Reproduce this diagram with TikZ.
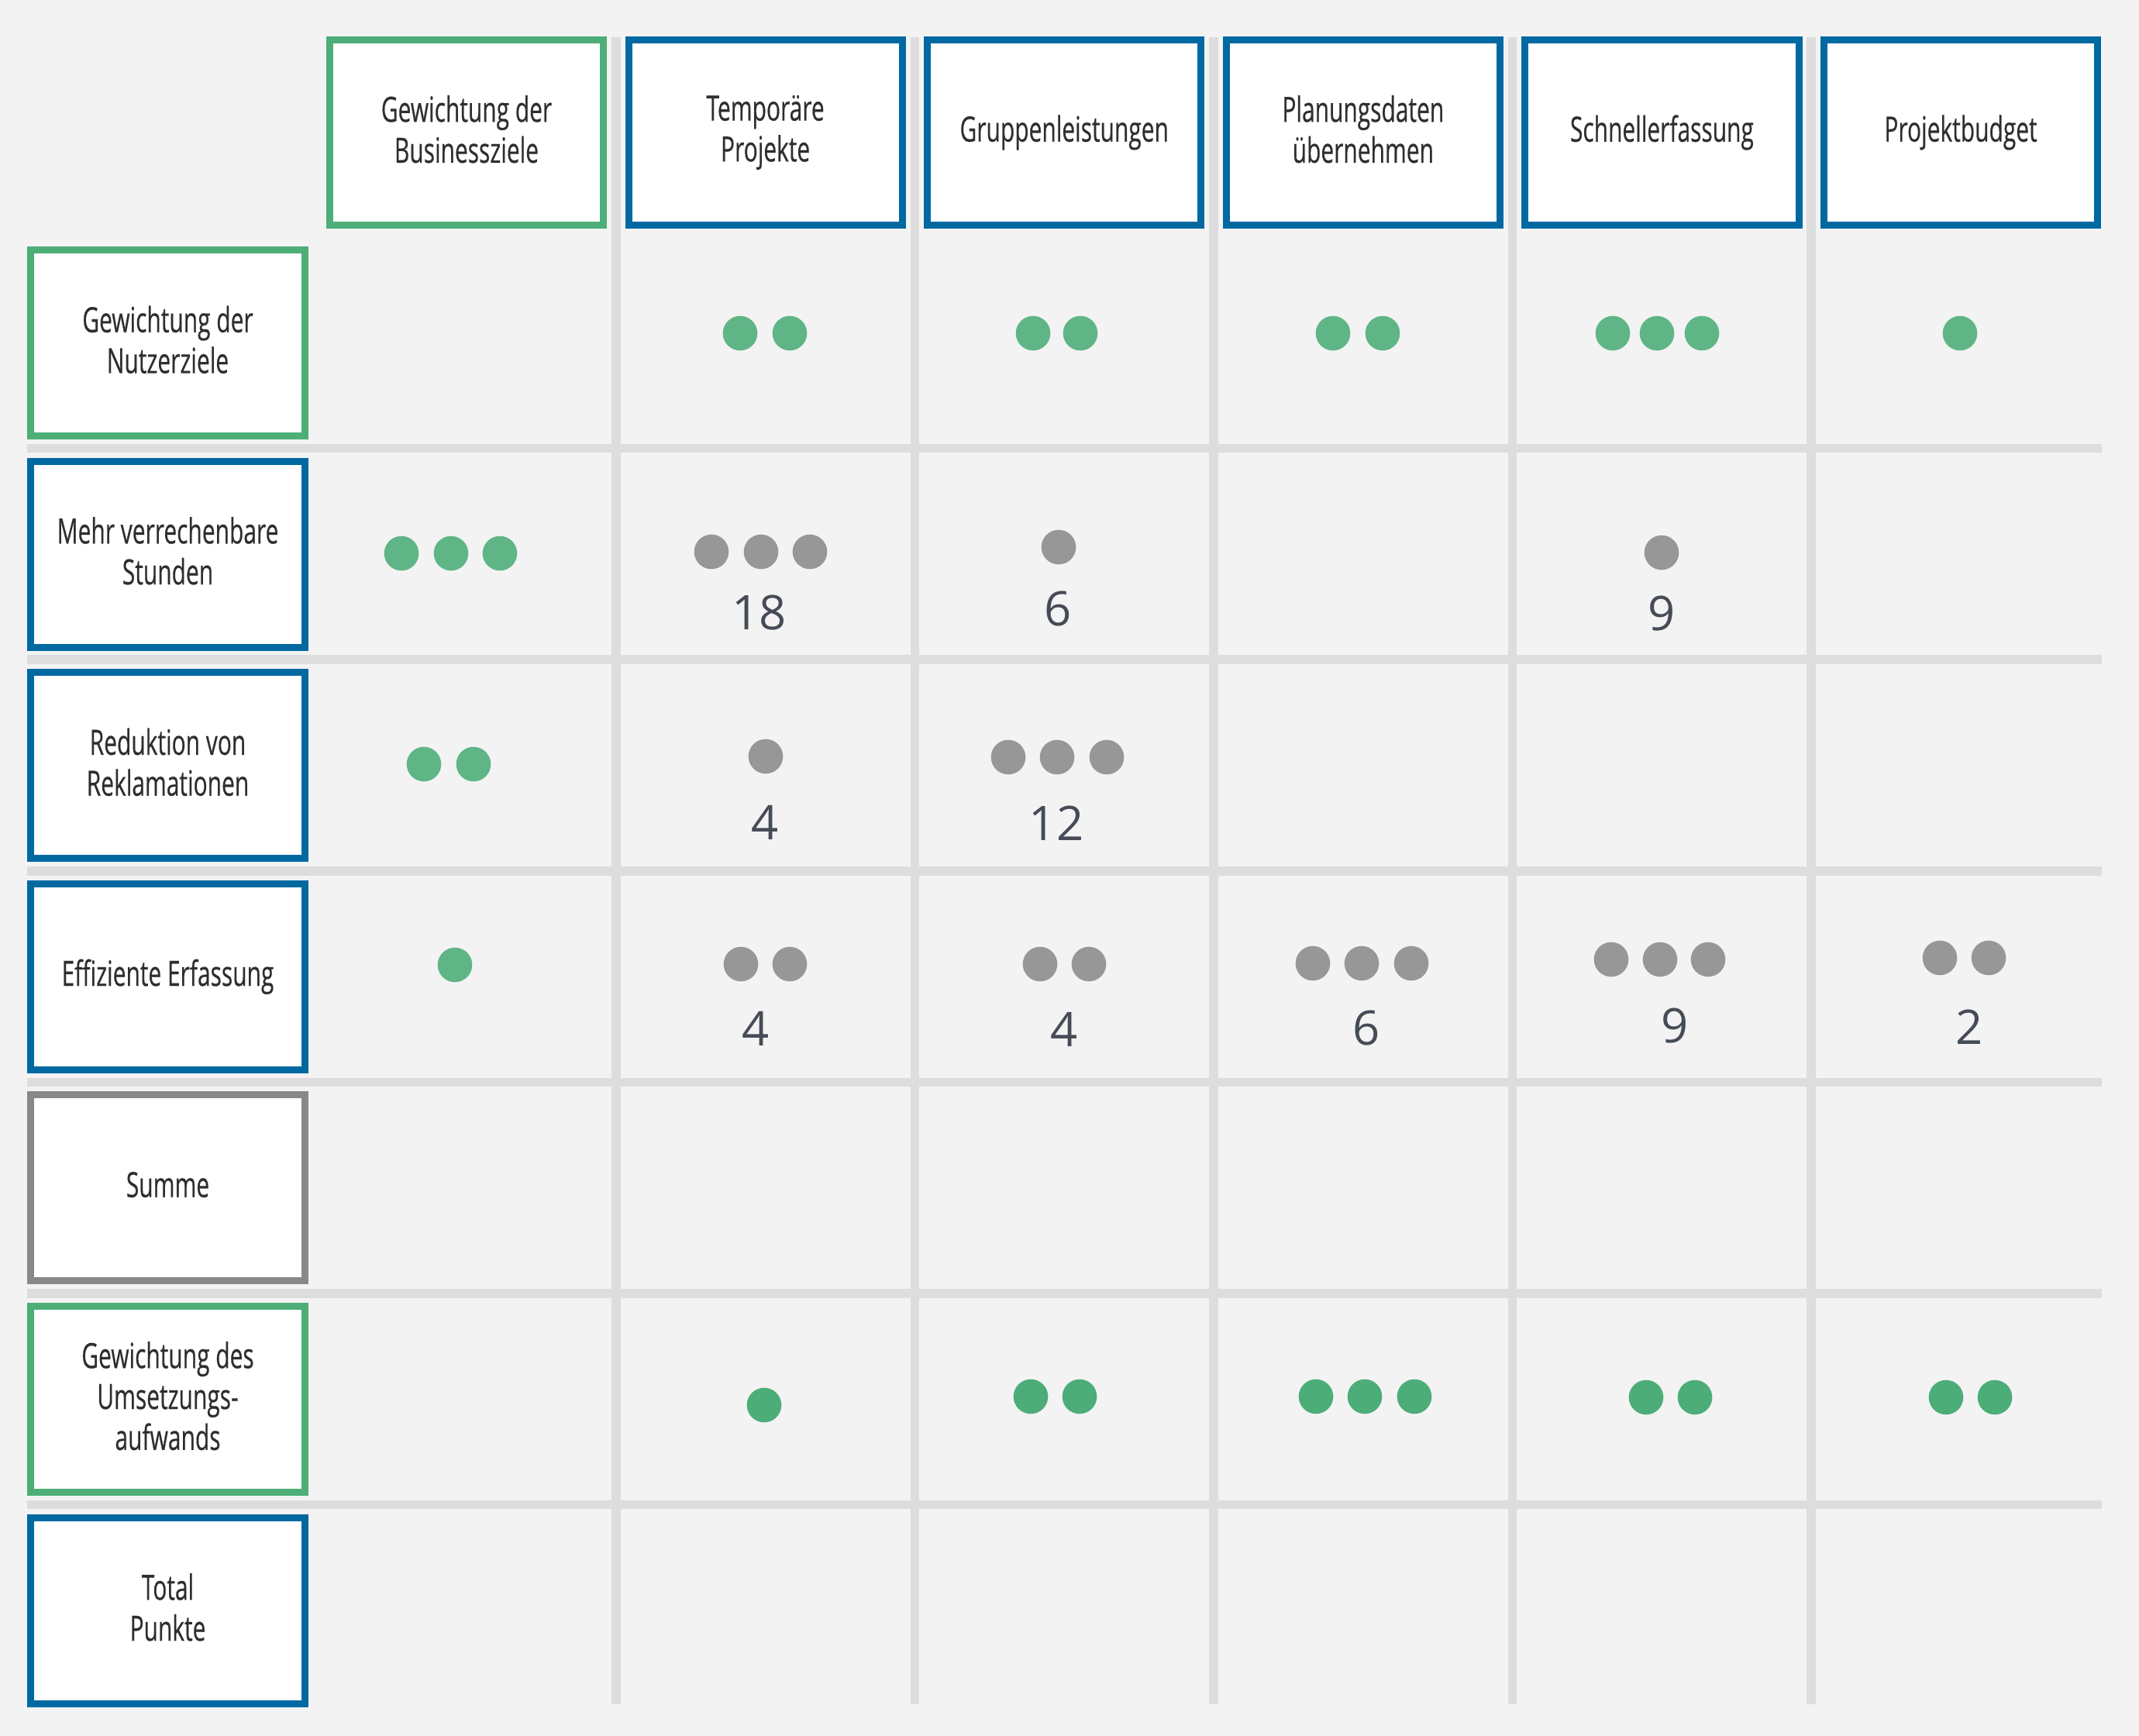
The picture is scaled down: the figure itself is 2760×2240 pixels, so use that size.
\documentclass[tikz,border=0pt]{standalone}
\usepackage{fontspec}
\setmainfont[FakeStretch=0.665,FakeBold=0.35]{Open Sans}
\newfontfamily\numfont{Open Sans}
\definecolor{bgc}{HTML}{F3F3F3}
\definecolor{gridc}{HTML}{DDDDDD}
\definecolor{boxgreen}{HTML}{4DAE77}
\definecolor{boxblue}{HTML}{0069A2}
\definecolor{boxgray}{HTML}{888888}
\definecolor{dotlight}{HTML}{5FB586}
\definecolor{dotdark}{HTML}{4CAD79}
\definecolor{dotgray}{HTML}{979797}
\definecolor{labelc}{HTML}{2E2E2E}
\definecolor{numc}{HTML}{464C56}
\newcommand\lstr{\rule[-0.2em]{0pt}{0.92em}}
\tikzset{
  gridline/.style={draw=gridc, line width=0.115cm},
  labelbox/.style={fill=white, line width=0.09cm, align=center, text=labelc,
    font=\fontsize{12.8}{15}\selectfont, inner sep=0pt},
  colbox/.style={labelbox, minimum width=3.53cm, minimum height=2.39cm},
  rowbox/.style={labelbox, minimum width=3.54cm, minimum height=2.40cm},
  numlabel/.style={inner sep=0pt, text=numc, font=\numfont\fontsize{17.5}{20}\selectfont},
  ldot/.style={fill=dotlight},
  ddot/.style={fill=dotdark},
  gdot/.style={fill=dotgray}
}
\begin{document}
\begin{tikzpicture}[x=0.01cm,y=-0.01cm]
\fill[bgc] (0,0) rectangle (2760,2240);
\useasboundingbox (0,0) rectangle (2760,2240);
% grid lines
\foreach \i in {0,...,4}
  \draw[gridline] ({794.8+385.6*\i},48) -- ({794.8+385.6*\i},2199);
\foreach \j in {0,...,5}
  \draw[gridline] (35,{578.6+272.6*\j}) -- (2712,{578.6+272.6*\j});
% column headers
\node[colbox, draw=boxgreen] (c0) at (602,171) {\lstr Gewichtung der\\\lstr Businessziele};
\node[colbox, draw=boxblue] (c1) at (987.6,171) {\lstr Temporäre\\\lstr Projekte};
\node[colbox, draw=boxblue] (c2) at (1373.2,171) {\lstr Gruppenleistungen};
\node[colbox, draw=boxblue] (c3) at (1758.8,171) {\lstr Planungsdaten\\\lstr übernehmen};
\node[colbox, draw=boxblue] (c4) at (2144.4,171) {\lstr Schnellerfassung};
\node[colbox, draw=boxblue] (c5) at (2530,171) {\lstr Projektbudget};
% row headers
\node[rowbox, draw=boxgreen] (r0) at (216.5,442.5) {\lstr Gewichtung der\\\lstr Nutzerziele};
\node[rowbox, draw=boxblue] (r1) at (216.5,715.1) {\lstr Mehr verrechenbare\\\lstr Stunden};
\node[rowbox, draw=boxblue] (r2) at (216.5,987.7) {\lstr Reduktion von\\\lstr Reklamationen};
\node[rowbox, draw=boxblue] (r3) at (216.5,1260.3) {\lstr Effiziente Erfassung};
\node[rowbox, draw=boxgray] (r4) at (216.5,1532.9) {\lstr Summe};
\node[rowbox, draw=boxgreen] (r5) at (216.5,1805.5) {\lstr Gewichtung des\\\lstr Umsetzungs-\\\lstr aufwands};
\node[rowbox, draw=boxblue] (r6) at (216.5,2078.1) {\lstr Total\\\lstr Punkte};
% row 1 dots
\foreach \x/\y in {955/430,1019/430,1333/430,1394/430,1720/430,1784/430,2081/430,2138/430,2196/430,2529/430}
  \fill[ldot] (\x,\y) circle[radius=0.223cm];
% row 2
\foreach \x/\y in {518/714,582/714,645/714}
  \fill[ldot] (\x,\y) circle[radius=0.223cm];
\foreach \x/\y in {918/712,982/712,1045/712,1366/706,2144/713}
  \fill[gdot] (\x,\y) circle[radius=0.223cm];
\node[numlabel] (n11) at (979.5,791) {18};
\node[numlabel] (n12) at (1365,786) {6};
\node[numlabel] (n14) at (2144,792) {9};
% row 3
\foreach \x/\y in {547/986,611/986}
  \fill[ldot] (\x,\y) circle[radius=0.223cm];
\foreach \x/\y in {988/976,1301/977,1364/977,1428/977}
  \fill[gdot] (\x,\y) circle[radius=0.223cm];
\node[numlabel] (n21) at (987,1061) {4};
\node[numlabel] (n22) at (1363,1062) {12};
% row 4
\fill[ldot] (587,1245) circle[radius=0.223cm];
\foreach \x/\y in {956/1244,1019/1244,1342/1244,1405/1244,1694/1243,1757/1243,1821/1243,2079/1238,2142/1238,2204/1238,2503/1236,2566/1236}
  \fill[gdot] (\x,\y) circle[radius=0.223cm];
\node[numlabel] (n31) at (975,1327) {4};
\node[numlabel] (n32) at (1373,1328) {4};
\node[numlabel] (n33) at (1763,1327) {6};
\node[numlabel] (n34) at (2161,1324) {9};
\node[numlabel] (n35) at (2541,1325) {2};
% row 6 (Umsetzungsaufwand)
\foreach \x/\y in {986/1813,1330/1802,1393/1802,1698/1802,1761/1802,1825/1802,2124/1803,2187/1803,2511/1803,2574/1803}
  \fill[ddot] (\x,\y) circle[radius=0.223cm];
\end{tikzpicture}
\end{document}
